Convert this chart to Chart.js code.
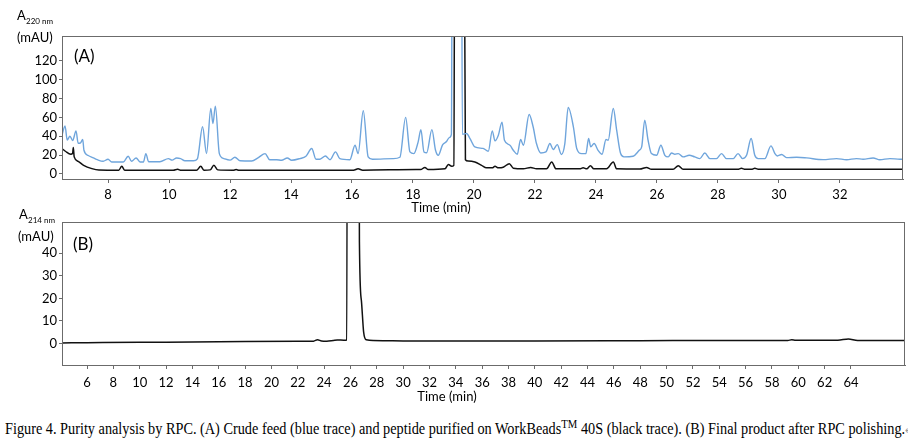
<!DOCTYPE html>
<html>
<head>
<meta charset="utf-8">
<script src="https://cdn.jsdelivr.net/npm/chart.js@4.4.1/dist/chart.umd.min.js"></script>
<style>
  body { margin: 0; background: #fff; width: 908px; height: 439px; position: relative; overflow: hidden; }
  .box { position: absolute; left: 0; width: 908px; }
  #boxA { top: 0; height: 215px; }
  #boxB { top: 205px; height: 200px; }
  #caption { position: absolute; left: 5px; top: 417px; font: 16px "Liberation Serif", serif; color: #000; white-space: nowrap; transform: scaleX(0.892); transform-origin: left top; }
  #caption sup { font-size: 12px; }
</style>
</head>
<body>
<div class="box" id="boxA"><canvas id="chartA"></canvas></div>
<div class="box" id="boxB"><canvas id="chartB"></canvas></div>
<div id="caption">Figure 4. Purity analysis by RPC. (A) Crude feed (blue trace) and peptide purified on WorkBeads<sup>TM</sup> 40S (black trace). (B) Final product after RPC polishing.<span style="color:#999;font-size:11px">&#8629;</span></div>
<script>
// panel A: crude feed (blue) and WorkBeads 40S purified (black), A220 nm
const crudeTime = [6.49,6.59,6.66,6.75,6.84,6.95,7.02,7.1,7.17,7.21,7.35,7.52,7.65,7.84,8.0,8.12,8.5,8.66,8.77,8.92,9.05,9.16,9.24,9.33,9.7,9.98,10.1,10.25,10.38,10.52,10.8,10.93,11.1,11.23,11.37,11.44,11.52,11.65,11.8,12.0,12.16,12.33,12.71,12.93,13.15,13.3,13.53,13.69,13.88,14.02,14.29,14.49,14.68,14.82,14.95,15.13,15.28,15.46,15.6,15.93,16.1,16.2,16.37,16.53,16.67,17.35,17.57,17.76,17.9,18.03,18.17,18.26,18.36,18.45,18.62,18.74,18.83,18.97,19.1,19.19,19.26,19.3,19.58,19.62,19.76,19.87,20.03,20.3,20.47,20.6,20.69,20.8,20.92,21.0,21.18,21.29,21.42,21.53,21.62,21.81,21.94,22.05,22.19,22.36,22.49,22.6,22.73,22.87,22.98,23.09,23.26,23.37,23.53,23.67,23.76,23.83,23.94,24.07,24.2,24.33,24.4,24.57,24.68,24.81,24.92,25.22,25.42,25.5,25.6,25.71,25.82,25.99,26.13,26.26,26.37,26.48,26.59,26.7,26.86,27.06,27.24,27.41,27.57,27.74,27.95,28.12,28.28,28.5,28.66,28.81,28.94,29.09,29.21,29.32,29.54,29.74,29.87,29.95,30.09,30.25,30.58,30.91,31.45,31.89,32.22,32.54,32.76,33.09,33.31,33.64,33.97,34.07];
const crudeAbs = [41,51,36,40,35.5,45.5,32.5,33,36.5,25,19.5,17,15,13.3,15.5,12.6,12.6,18.7,13.3,16.9,12.6,12.6,21.5,12.9,12.9,16.2,14.6,16.9,16.2,13.9,13.9,16,50,21.5,69.5,53.5,72,21.5,16.2,14.6,17.6,13.9,13.6,17.2,21.5,15,15,14.4,16.9,14.4,16.2,18.7,26.9,15.5,15.5,19,15,23.3,16.2,15,30.4,21.5,67,18,15.5,16.2,17.6,60,23.3,21.5,34,47,23.3,22.4,47,25,19.7,30.8,34.3,38.5,42,400,400,42,42.9,37.5,28.6,27,24,45.7,35,41,55,35.7,30.4,25,20.8,36.5,30.4,63,50,32.2,22.2,23.3,32.2,25.8,31,20.5,32,70.6,50,26.9,21.5,21.5,37.5,28.6,32.2,25,20.8,36.5,35.7,69.5,46.4,21.5,18,18.7,25,28.6,57,35.7,21.5,19.7,30.4,19.7,18,22.2,20.8,21.5,18,19.7,18,16.2,22.2,16.2,16.2,21.5,16.2,16.2,21.5,16.2,19.7,37.5,19.7,16.2,16.2,29.7,21.5,19,20.5,17.2,17.6,16.9,15.1,16.2,15,16.2,15.5,16.9,15,16.2,15.5,15.5];
const purifiedTime = [6.49,6.6,6.78,6.84,6.86,6.89,7.02,7.2,7.47,7.7,8.35,8.45,8.55,10.14,10.28,10.4,10.9,11.04,11.15,11.35,11.47,11.6,12.1,12.2,12.3,16.05,16.2,16.35,18.1,18.25,18.39,18.5,19.05,19.16,19.27,19.34,19.38,19.66,19.72,19.81,20.03,20.25,20.41,20.6,20.69,20.8,20.96,21.16,21.29,21.62,21.86,22.05,22.38,22.55,22.69,23.47,23.58,23.7,23.82,23.93,24.35,24.57,24.68,25.44,25.66,25.82,26.53,26.7,26.86,28.65,28.77,28.9,29.1,29.21,29.35,34.07];
const purifiedAbs = [26.9,24,20.8,22,28,18,13.3,9,5.5,4,3.8,8,3.7,3.7,4.8,3.7,3.7,8,3.8,4.2,9,4.2,3.8,4.5,3.8,3.8,5.3,3.9,4.5,4.5,6.8,4.5,5.3,10,8,9,400,400,15,13.7,12.6,9,6.4,6.4,8,6.4,7,10.8,6,5.3,6.8,5.3,5.3,12.6,5.3,5.3,6.4,5.3,8.7,5.3,5.3,12.6,5.3,5,6.8,4.8,4.8,8.7,4.8,4.8,5.8,4.8,4.8,5.8,4.8,4.8];
const ticksXA = [8,10,12,14,16,18,20,22,24,26,28,30,32];
const ticksYA = [0,20,40,60,80,100,120];

// panel B: final product after RPC polishing, A214 nm
const finalTime = [4.1,6,10,14,18,22,23.2,23.5,23.8,24.2,24.7,25.0,25.5,25.72,25.8,26.55,26.68,26.83,27.0,27.2,28.5,30,35,40,48,55,59.2,59.5,59.8,63,63.8,64.5,68.1];
const finalAbs = [0.2,0.3,0.5,0.6,0.8,0.9,1.0,1.6,1.1,1.0,1.3,1.5,1.4,1.5,300,300,45,19,5,1.6,1.2,1.1,1.1,1.1,1.2,1.3,1.3,1.6,1.4,1.4,2.0,1.3,1.3];
const ticksXB = [6,8,10,12,14,16,18,20,22,24,26,28,30,32,34,36,38,40,42,44,46,48,50,52,54,56,58,60,62,64];
const ticksYB = [0,10,20,30,40];

Chart.defaults.font.family = 'Lato, "Open Sans", sans-serif';
Chart.defaults.font.size = 13;
Chart.defaults.color = '#000';

const frameColor = '#6b6b6b';

const panelText = {
  id: 'panelText',
  afterDraw(chart, args, opts) {
    const ctx = chart.ctx;
    const a = chart.chartArea;
    ctx.save();
    ctx.strokeStyle = frameColor;
    ctx.lineWidth = 1;
    ctx.strokeRect(a.left + 0.5, a.top + 0.5, a.right - a.left - 1, a.bottom - a.top);
    ctx.fillStyle = '#000';
    for (const t of opts.items) {
      ctx.font = t.size + 'px Lato, "Open Sans", sans-serif';
      ctx.textAlign = t.align || 'left';
      ctx.textBaseline = t.base || 'alphabetic';
      ctx.fillText(t.text, t.x, t.y);
    }
    ctx.restore();
  }
};

function xy(ts, vs) {
  return ts.map((t, i) => ({ x: t, y: vs[i] }));
}

function fixedTicks(list) {
  return scale => { scale.ticks = list.map(v => ({ value: v })); };
}

function makeOptions(cfg) {
  return {
    responsive: true,
    maintainAspectRatio: false,
    animation: false,
    events: [],
    layout: { padding: { left: 0, top: cfg.top, right: cfg.right, bottom: 0 } },
    elements: { point: { radius: 0 }, line: { tension: 0.4, cubicInterpolationMode: 'monotone', fill: false } },
    plugins: {
      legend: { display: false },
      tooltip: { enabled: false },
      panelText: { items: cfg.items }
    },
    scales: {
      x: {
        type: 'linear',
        min: cfg.xmin, max: cfg.xmax,
        afterBuildTicks: fixedTicks(cfg.xticks),
        afterFit: s => { s.height = cfg.xh; },
        grid: { drawOnChartArea: false, drawTicks: true, tickLength: 4, color: frameColor },
        border: { display: true, color: frameColor },
        ticks: { padding: cfg.xpad, maxRotation: 0, autoSkip: false }
      },
      y: {
        min: cfg.ymin, max: cfg.ymax,
        afterBuildTicks: fixedTicks(cfg.yticks),
        afterFit: s => { s.width = 62; },
        grid: { drawOnChartArea: false, drawTicks: true, tickLength: 3, color: frameColor },
        border: { display: true, color: frameColor },
        ticks: { padding: 2 }
      }
    }
  };
}

new Chart(document.getElementById('chartA'), {
  type: 'line',
  data: {
    datasets: [
      { label: 'Crude feed', data: xy(crudeTime, crudeAbs), borderColor: '#6fa5dc', borderWidth: 1.4 },
      { label: 'WorkBeads 40S', data: xy(purifiedTime, purifiedAbs), borderColor: '#111111', borderWidth: 1.5 }
    ]
  },
  options: makeOptions({
    top: 36, right: 5, xh: 36, xpad: 4,
    xmin: 6.49, xmax: 34.07, ymin: -5.5, ymax: 146.5,
    xticks: ticksXA, yticks: ticksYA,
    items: [
      { text: 'A', x: 17, y: 20, size: 13 },
      { text: '220 nm', x: 26, y: 24, size: 8 },
      { text: '(mAU)', x: 17, y: 38, size: 13, base: 'middle' },
      { text: '(A)', x: 74, y: 57, size: 17, base: 'middle' },
      { text: 'Time (min)', x: 441, y: 208, size: 13, align: 'center', base: 'middle' }
    ]
  }),
  plugins: [panelText]
});

new Chart(document.getElementById('chartB'), {
  type: 'line',
  data: {
    datasets: [
      { label: 'Final product', data: xy(finalTime, finalAbs), borderColor: '#111111', borderWidth: 1.5 }
    ]
  },
  options: makeOptions({
    top: 17, right: 3, xh: 40, xpad: 6,
    xmin: 4.1, xmax: 68.1, ymin: -9.6, ymax: 53.9,
    xticks: ticksXB, yticks: ticksYB,
    items: [
      { text: 'A', x: 19, y: 14, size: 13 },
      { text: '214 nm', x: 28, y: 18, size: 8 },
      { text: '(mAU)', x: 18, y: 32, size: 13, base: 'middle' },
      { text: '(B)', x: 73, y: 40, size: 17, base: 'middle' },
      { text: 'Time (min)', x: 447, y: 192, size: 13, align: 'center', base: 'middle' }
    ]
  }),
  plugins: [panelText]
});
</script>
</body>
</html>
